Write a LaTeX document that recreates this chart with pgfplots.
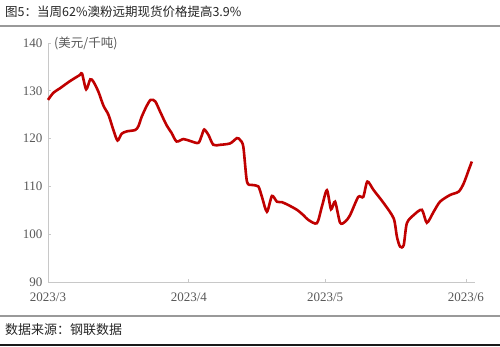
\documentclass[border=0pt]{standalone}
\usepackage{pgfplots}
\pgfplotsset{compat=1.18}
\usepackage{fontspec}
\setmainfont{Liberation Serif}
\newfontfamily\cjk{Noto Sans CJK SC}
\definecolor{linered}{RGB}{192,0,0}
\definecolor{axgray}{RGB}{200,200,200}
\definecolor{txtgray}{RGB}{89,89,89}
\begin{document}
\begin{tikzpicture}
\path[use as bounding box] (-48pt,-65pt) rectangle (452pt,282pt);
\fill[white] (-48pt,-65pt) rectangle (452pt,282pt);
\node[anchor=west, inner sep=0pt, font=\cjk\fontsize{12.5}{13}\selectfont, text=black!85] at (-43pt,270pt) {图5：当周62\%澳粉远期现货价格提高3.9\%};
\draw[black!40, line width=1.5pt] (-48pt,256pt) -- (452pt,256pt);
\draw[black!40, line width=1.2pt] (-48pt,-34pt) -- (452pt,-34pt);
\draw[black!90, line width=2pt] (-48pt,-63pt) -- (452pt,-63pt);
\node[anchor=west, inner sep=0pt, font=\cjk\fontsize{13}{13}\selectfont, text=black!85] at (-43pt,-48pt) {数据来源：钢联数据};
\begin{axis}[
  width=427pt, height=239pt, scale only axis,
  xmin=0, xmax=94, ymin=90, ymax=140,
  axis x line*=bottom, axis y line*=left,
  axis line style={axgray, line width=0.8pt},
  xtick={0,31,61,92}, xticklabels={2023/3,2023/4,2023/5,2023/6},
  ytick={90,100,110,120,130,140},
  tick align=inside, major tick length=3pt,
  tick style={axgray, line width=0.8pt},
  /pgf/number format/assume math mode=true,
  tick label style={font=\fontsize{13}{13}\selectfont, text=txtgray},
  yticklabel style={xshift=-2pt},
  xticklabel style={yshift=-7pt},
  clip=false,
]
\addplot[linered, line width=2.6pt, smooth, tension=0.45] coordinates {
(0,128.1) (1.2,129.6) (2.6,130.5) (4.8,132.0) (7.0,133.3) (7.5,133.6)
(8.4,130.3) (9.3,132.4) (10.0,131.9) (11.1,129.8) (12.2,126.9) (13.3,125.0)
(14.4,121.8) (15.3,119.6) (16.2,121.0) (17.3,121.5) (19.2,121.8) (19.9,122.6)
(20.6,124.5) (21.7,126.8) (22.6,128.1) (23.6,127.8) (24.7,125.6) (26.1,122.8)
(27.2,121.2) (28.3,119.4) (29.8,119.9) (31.3,119.5) (33.1,119.1) (33.9,120.8)
(34.4,121.9) (35.3,120.8) (36.4,118.7) (37.9,118.7) (40.1,119.0) (41.6,120.1)
(42.3,119.7) (43.0,118.3) (43.8,111.0) (44.9,110.3) (46.3,110.0) (47.1,107.8)
(48.2,104.7) (49.3,108.0) (50.4,106.8) (51.5,106.7) (52.9,106.1) (54.8,105.1)
(56.2,104.0) (57.3,103.0) (59.2,102.3) (60.3,105.8) (61.4,109.2) (62.3,105.2)
(63.2,106.8) (64.3,102.4) (65.4,102.6) (66.5,104.0) (68.3,107.8) (69.4,107.8)
(70.3,111.0) (71.7,109.2) (73.9,106.5) (76.1,103.3) (76.8,99.5) (77.5,97.4)
(78.3,97.7) (79.0,102.3) (80.5,104.0) (82.3,105.1) (83.4,102.4) (84.9,104.7)
(86.3,106.8) (88.5,108.2) (90.4,108.9) (91.5,110.6) (92.6,113.4) (93.3,115.2)
};
\node[anchor=west, inner sep=0pt, font=\cjk\fontsize{12.5}{12.5}\selectfont, text=txtgray] at (rel axis cs:0,1) [xshift=6pt] {(美元/千吨)};
\end{axis}
\end{tikzpicture}
\end{document}
